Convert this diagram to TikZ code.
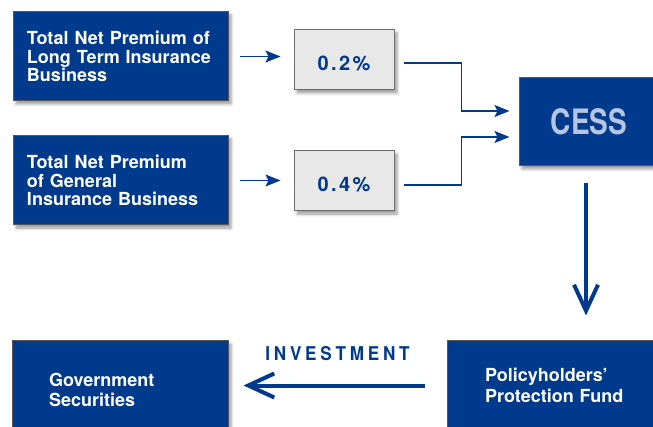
\documentclass[tikz,border=0pt]{standalone}
\usepackage{fontspec}
\setmainfont{TeX Gyre Heros}
\newfontfamily\cessfont[FakeStretch=0.8]{TeX Gyre Heros}
\newfontfamily\pctfont[LetterSpace=12]{TeX Gyre Heros}
\newfontfamily\investfont[FakeStretch=0.9,LetterSpace=20]{TeX Gyre Heros}
\usepackage{tikz}
\usetikzlibrary{arrows.meta, positioning, calc, shadows.blur}
\definecolor{navyblue}{RGB}{0,58,140}
\definecolor{boxborder}{RGB}{85,85,90}
\definecolor{cessgray}{RGB}{182,198,226}
\definecolor{pctfill}{RGB}{232,232,232}
\definecolor{pctborder}{RGB}{110,110,110}

\begin{document}
\begin{tikzpicture}[
	  x=1pt, y=-1pt,
	  box_style/.style={
	  	rectangle,
	  	draw=boxborder,
	  	line width=1pt,
	  	fill=navyblue,
	  	text=white,
	  	align=left,
	  	font=\bfseries\fontsize{18}{18.5}\selectfont,
	  	inner xsep=14pt,
	  	text width=187pt,
	  	minimum height=89pt,
	  	blur shadow={shadow xshift=3pt, shadow yshift=-3pt, shadow blur radius=3pt}
	  },
	  pct_style/.style={
	  	rectangle,
	  	draw=pctborder,
	  	line width=1pt,
	  	fill=pctfill,
	  	text=navyblue,
	  	font=\pctfont\bfseries\fontsize{20}{21}\selectfont,
	  	text height=20.2pt,
	  	text depth=0pt,
	  	minimum width=100pt,
	  	minimum height=60pt,
	  	blur shadow={shadow xshift=3pt, shadow yshift=-3pt, shadow blur radius=3pt}
	  },
	  fund_style/.style={
	  	box_style,
	  	font=\bfseries\fontsize{18}{20.5}\selectfont
	  },
	  thin_arrow/.style={
	  	navyblue,
	  	line width=1.6pt,
	  	-{Stealth[length=15pt, width=12pt, inset=3pt]}
	  },
	  thick_arrow/.style={
	  	navyblue,
	  	line width=4pt,
	  	-{Straight Barb[length=26pt, width=24pt]}
	  }]
	\useasboundingbox (0,0) rectangle (653,427);
	% Premium boxes
	\node[box_style] (lt) at (120.5,56.5) {Total Net Premium of\\Long Term Insurance\\Business};
	\node[box_style, below=34pt of lt] (gi) {Total Net Premium\\of General\\Insurance Business};
	% Rates
	\node[pct_style] (p02) at (344,60) {0.2\%};
	\node[pct_style, below=60pt of p02] (p04) {0.4\%};
	% Cess
	\node[box_style, text width=140pt, inner xsep=0pt, align=center, minimum height=88pt,
		font=\cessfont\bfseries\fontsize{35}{36}\selectfont, text=cessgray] (cess) at (589,122) {CESS};
	% Fund and securities
	\node[fund_style, inner xsep=38pt, text width=165pt] (ppf) at (567.5,385.5) {Policyholders’\\Protection Fund};
	\node[fund_style, inner xsep=37pt, text width=142pt, minimum height=98pt] (gov) at (120,390) {Government\\Securities};
	% Connectors
	\draw[thin_arrow] ([xshift=11pt]lt.east) -- ([xshift=-13pt]lt.east -| p02.west);
	\draw[thin_arrow] ([xshift=11pt]gi.east) -- ([xshift=-13pt]gi.east -| p04.west);
	\draw[thin_arrow] ([xshift=9pt, yshift=-3pt]p02.east) -| ([xshift=-57pt, yshift=11pt]cess.west) -- ([xshift=-9pt, yshift=11pt]cess.west);
	\draw[thin_arrow] ([xshift=9pt, yshift=-4pt]p04.east) -| ([xshift=-57pt, yshift=-15pt]cess.west) -- ([xshift=-9pt, yshift=-15pt]cess.west);
	\draw[thick_arrow] ([xshift=-3pt, yshift=-17pt]cess.south) -- ([xshift=-3pt, yshift=25pt]cess.south |- ppf.north);
	\draw[thick_arrow] ([xshift=-22pt]ppf.west) -- ([xshift=15pt]ppf.west -| gov.east)
		node[midway, xshift=3.5pt, yshift=32pt, text=navyblue, font=\investfont\bfseries\fontsize{19}{20}\selectfont] (inv) {INVESTMENT};
\end{tikzpicture}
\end{document}
